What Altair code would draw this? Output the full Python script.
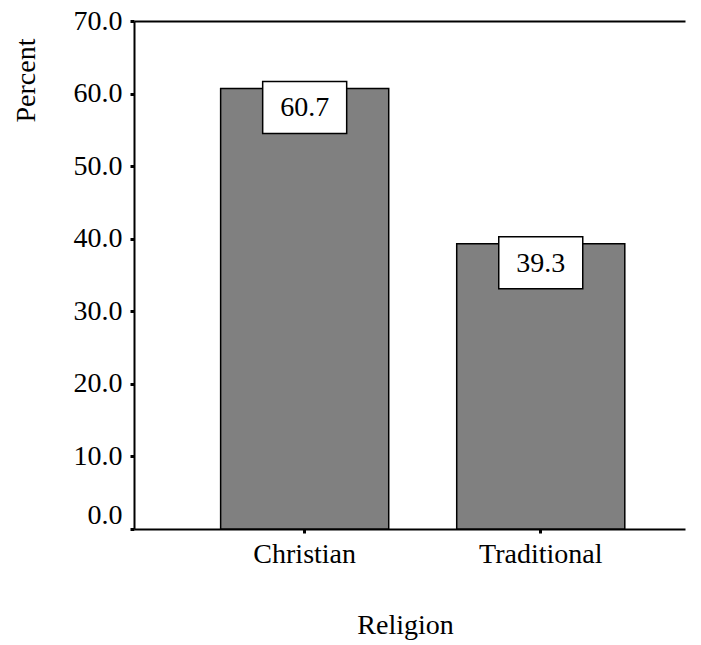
import altair as alt
import pandas as pd

religions = ["Christian", "Traditional"]
percents = [60.7, 39.3]
y_ticks = [0, 10, 20, 30, 40, 50, 60, 70]

df = pd.DataFrame({"Religion": religions, "Percent": percents})

FONT = "Liberation Serif"

x_scale = alt.Scale(paddingInner=0.288, paddingOuter=0.311, align=0.59)
y_scale = alt.Scale(domain=[0, 70], nice=False)

y_axis = alt.Axis(
    values=y_ticks, format=".1f", title="Percent",
    titleAngle=270, titleAlign="center", titleBaseline="alphabetic",
    titleX=-100, titleY=59, titleFont=FONT, titleFontSize=28,
    titleFontWeight="normal", titleColor="black",
    labelFont=FONT, labelFontSize=28, labelColor="black", labelPadding=8,
    labelBaseline={"condition": {"test": "datum.value == 0", "value": "bottom"}, "value": "middle"},
    tickSize=4, tickWidth=3, tickColor="black",
    domainColor="black", domainWidth=2, grid=False,
)

x_axis = alt.Axis(
    title="Religion", labelAngle=0, titleFont=FONT, titleFontSize=28,
    titleFontWeight="normal", titleColor="black", titleX=271, titleY=104,
    titleAlign="center", titleBaseline="alphabetic",
    labelFont=FONT, labelFontSize=28, labelColor="black", labelPadding=7,
    tickSize=4, tickWidth=3, tickColor="black",
    domainColor="black", domainWidth=2, grid=False,
)

top_axis = alt.Axis(
    orient="top", title=None, labels=False, ticks=False,
    domainColor="black", domainWidth=2, grid=False,
)

base = alt.Chart(df)

bars = base.mark_bar(fill="#808080", stroke="black", strokeWidth=1.5).encode(
    x=alt.X("Religion:N", sort=religions, scale=x_scale, axis=x_axis),
    y=alt.Y("Percent:Q", scale=y_scale, axis=y_axis),
)

box_path = "M-1,-0.167L1,-0.167L1,1.071L-1,1.071Z"
boxes = base.mark_point(
    shape=box_path, size=7056, filled=True, fill="white",
    stroke="black", strokeWidth=1.5, opacity=1,
).encode(
    x=alt.X("Religion:N", sort=religions, scale=x_scale, axis=None),
    y=alt.Y("Percent:Q", scale=y_scale),
)

texts = base.mark_text(
    font=FONT, fontSize=28, color="black", baseline="alphabetic", dy=28,
).encode(
    x=alt.X("Religion:N", sort=religions, scale=x_scale, axis=top_axis),
    y=alt.Y("Percent:Q", scale=y_scale),
    text=alt.Text("Percent:Q", format=".1f"),
)

chart = alt.layer(bars, boxes, texts).resolve_axis(x="independent").properties(
    width=551, height=508,
    autosize=alt.AutoSizeParams(type="none"),
    padding={"left": 126, "top": 13, "right": 8, "bottom": 112},
    background="white",
).configure_view(stroke=None)

chart.save("out.html", embed_options={"renderer": "svg", "actions": False})
